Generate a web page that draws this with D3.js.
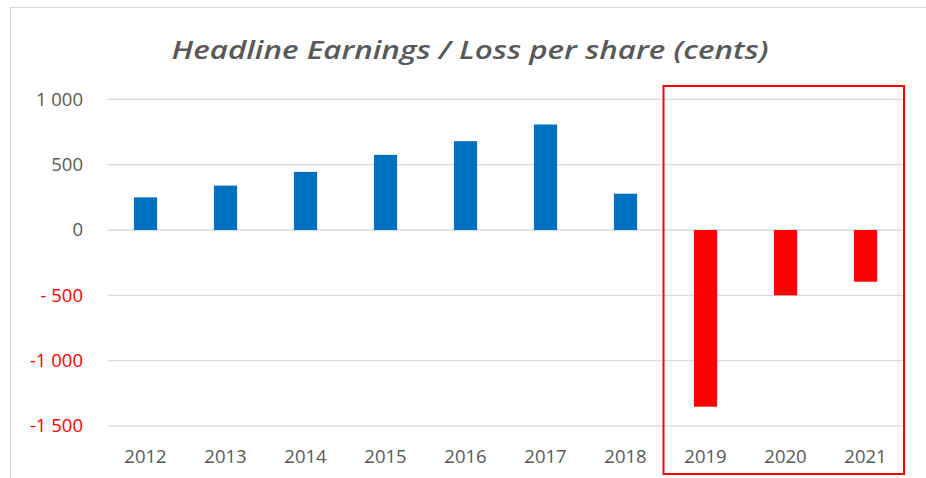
<!DOCTYPE html>
<html>
<head>
<meta charset="utf-8">
<script src="https://cdn.jsdelivr.net/npm/d3@7"></script>
<style>
  body { margin: 0; background: #fff; }
  svg { display: block; }
  .tick text { font-family: "Open Sans", sans-serif; }
</style>
</head>
<body>
<svg></svg>
<script>
// values (cents)
const years = ['2012', '2013', '2014', '2015', '2016', '2017', '2018', '2019', '2020', '2021']
const heps = [250, 340, 445, 575, 680, 808, 278, -1353, -500, -396]
const yTicks = [1000, 500, 0, -500, -1000, -1500]
const yTickLabels = ['1 000', '500', '0', '- 500', '-1 000', '-1 500']
const highlighted = ['2019', '2020', '2021']

const svg = d3.select('svg')
  .attr('width', 926)
  .attr('height', 478)

// chart area border
svg.append('rect')
  .attr('x', 10.5)
  .attr('y', 7.5)
  .attr('width', 940)
  .attr('height', 500)
  .attr('fill', '#fff')
  .attr('stroke', '#d9d9d9')
  .attr('stroke-width', 1)

svg.append('text')
  .attr('x', 470)
  .attr('y', 59)
  .attr('text-anchor', 'middle')
  .attr('font-family', '"Open Sans", sans-serif')
  .attr('font-style', 'italic')
  .attr('font-weight', 600)
  .attr('font-size', 26)
  .attr('fill', '#595959')
  .attr('textLength', 597)
  .attr('lengthAdjust', 'spacingAndGlyphs')
  .text('Headline Earnings / Loss per share (cents)')

const x = d3.scaleBand()
  .domain(years)
  .range([105.5, 905.5])
  .paddingInner(0.71)
  .paddingOuter(0.355)

const y = d3.scaleLinear()
  .domain([-1500, 1000])
  .range([425.9, 99.4])

// gridlines
svg.append('g')
  .selectAll('line')
  .data(yTicks)
  .enter()
  .append('line')
  .attr('x1', 108)
  .attr('x2', 903)
  .attr('y1', d => y(d))
  .attr('y2', d => y(d))
  .attr('stroke', '#d9d9d9')
  .attr('stroke-width', 1.3)

// y axis labels
const yAxis = d3.axisLeft(y)
  .tickValues(yTicks)
  .tickSize(0)
  .tickPadding(0)
  .tickFormat((d, i) => yTickLabels[i])

const yg = svg.append('g')
  .attr('transform', 'translate(83, 0)')
  .call(yAxis)
yg.select('.domain').remove()
yg.selectAll('.tick text')
  .attr('font-size', 18.5)
  .attr('fill', d => d < 0 ? '#ff0000' : '#595959')

// bars
svg.append('g')
  .selectAll('rect')
  .data(heps)
  .enter()
  .append('rect')
  .attr('x', (d, i) => x(years[i]))
  .attr('width', x.bandwidth())
  .attr('y', d => y(Math.max(0, d)))
  .attr('height', d => Math.abs(y(d) - y(0)))
  .attr('fill', d => d < 0 ? '#ff0000' : '#0070c0')

// x axis labels
const xAxis = d3.axisBottom(x)
  .tickSize(0)
  .tickPadding(0)

const xg = svg.append('g')
  .attr('transform', 'translate(0, 449.5)')
  .call(xAxis)
xg.select('.domain').remove()
xg.selectAll('.tick text')
  .attr('font-size', 18.5)
  .attr('fill', '#595959')

// red box round the loss years
const first = highlighted[0]
const last = highlighted[highlighted.length - 1]
const step = x.step()
svg.append('rect')
  .attr('x', x(first) + x.bandwidth() / 2 - step / 2 - 2)
  .attr('y', 86)
  .attr('width', x(last) - x(first) + step + 0.5)
  .attr('height', 388)
  .attr('fill', 'none')
  .attr('stroke', '#ff0000')
  .attr('stroke-width', 2)
</script>
</body>
</html>
